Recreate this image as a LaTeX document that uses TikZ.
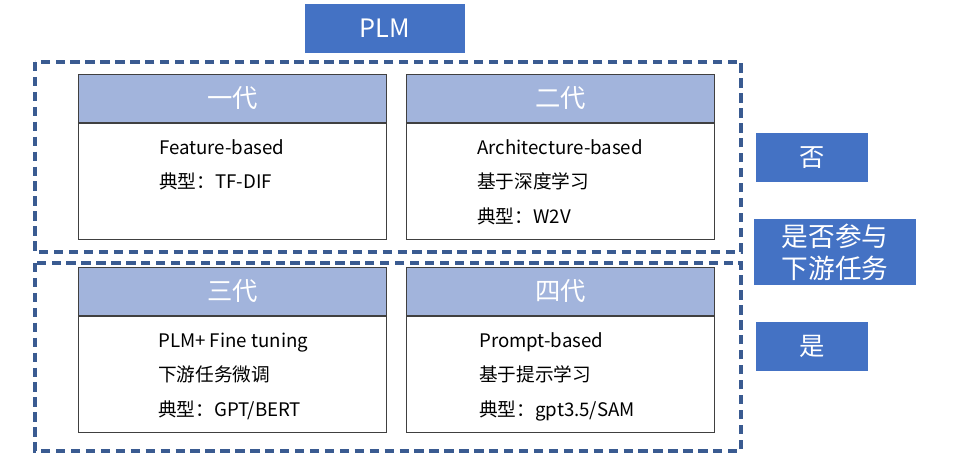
\documentclass[tikz,border=0pt]{standalone}
\usepackage{fontspec}
\setmainfont{Noto Sans CJK SC}
\usetikzlibrary{positioning}
\definecolor{plmblue}{HTML}{4472C4}
\definecolor{headblue}{HTML}{A2B4DC}
\definecolor{frameblue}{HTML}{3A5B91}
\definecolor{boxline}{HTML}{404040}
\begin{document}
\begin{tikzpicture}[x=0.75pt,y=-0.75pt,
    tagbox/.style={fill=plmblue, text=white, inner sep=0pt, align=center},
    genhead/.style={draw=boxline, line width=0.75pt, fill=headblue, text=white, anchor=north west,
      minimum width=231pt, minimum height=36pt, inner sep=0pt, font=\fontsize{19}{22}\selectfont},
    genbody/.style={draw=boxline, line width=0.75pt, fill=white,
      minimum width=231pt, minimum height=87pt, inner sep=0pt},
    bodytext/.style={anchor=base west, inner sep=0pt, font=\fontsize{14}{17}\selectfont},
    dashframe/.style={draw=frameblue, line width=2.6pt, dash pattern=on 7pt off 4.2pt}]
  \useasboundingbox (0,0) rectangle (978,464);
  \node[tagbox, minimum width=120pt, minimum height=36.75pt, font=\fontsize{19}{22}\selectfont] (plm) at (385,28.5) {PLM};
  % two groups
  \draw[dashframe] (35,62) rectangle (741,252);
  \draw[dashframe] (35,263) rectangle (741,451);
  % generation boxes
  \node[genhead] (gen1head) at (78,74) {一代};
  \node[genbody, below=0pt of gen1head] (gen1body) {};
  \node[genhead] (gen2head) at (406,74) {二代};
  \node[genbody, below=0pt of gen2head] (gen2body) {};
  \node[genhead] (gen3head) at (78,267) {三代};
  \node[genbody, below=0pt of gen3head] (gen3body) {};
  \node[genhead] (gen4head) at (406,267) {四代};
  \node[genbody, below=0pt of gen4head] (gen4body) {};
  \node[bodytext] (gen1a) at (159,154) {Feature-based};
  \node[bodytext] (gen1b) at (159,188.5) {典型：TF-DIF};
  \node[bodytext] (gen2a) at (477,154) {Architecture-based};
  \node[bodytext] (gen2b) at (477,188.5) {基于深度学习};
  \node[bodytext] (gen2c) at (477,223) {典型：W2V};
  \node[bodytext] (gen3a) at (158,347) {PLM+ Fine tuning};
  \node[bodytext] (gen3b) at (158,381.5) {下游任务微调};
  \node[bodytext] (gen3c) at (158,416) {典型：GPT/BERT};
  \node[bodytext] (gen4a) at (479,347) {Prompt-based};
  \node[bodytext] (gen4b) at (479,381.5) {基于提示学习};
  \node[bodytext] (gen4c) at (479,416) {典型：gpt3.5/SAM};
  % right side
  \node[tagbox, minimum width=84pt, minimum height=36.75pt, font=\fontsize{19}{22}\selectfont] (no) at (812,157.5) {否};
  \node[tagbox, minimum width=121.5pt, minimum height=49.5pt, font=\fontsize{20}{24}\selectfont] (ask) at (835,252) {是否参与\\下游任务};
  \node[tagbox, minimum width=84pt, minimum height=36.75pt, font=\fontsize{19}{22}\selectfont] (yes) at (812,346) {是};
\end{tikzpicture}
\end{document}
